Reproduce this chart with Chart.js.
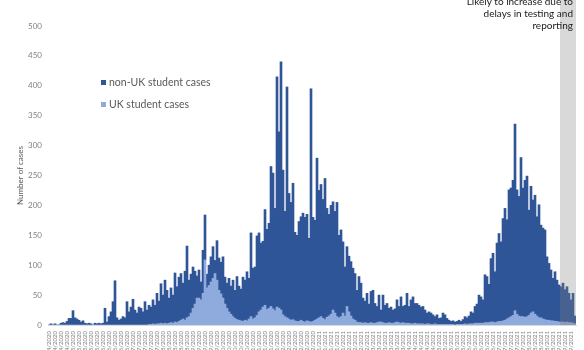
<!DOCTYPE html>
<html>
<head>
<meta charset="utf-8">
<script src="https://cdn.jsdelivr.net/npm/chart.js@4"></script>
<style>
  html, body { margin: 0; padding: 0; background: #fff; overflow: hidden; }
  #wrap { position: relative; width: 584px; height: 365px; }
</style>
</head>
<body>
<div id="wrap"><canvas id="chart" width="584" height="365"></canvas></div>
<script>
// daily cases, one bar per two days
const nonUkCases = [
  0, 2, 0, 2, 0, 0, 3, 4, 3, 6,
  11, 11, 24, 12, 10, 8, 5, 7, 3, 2,
  3, 2, 0, 3, 2, 3, 2, 3, 28, 5,
  14, 22, 39, 74, 12, 8, 10, 14, 12, 39,
  22, 30, 43, 25, 20, 30, 28, 22, 39, 25,
  32, 29, 40, 32, 51, 38, 66, 48, 72, 56,
  42, 58, 47, 82, 60, 74, 78, 60, 82, 120,
  61, 65, 69, 55, 37, 47, 30, 72, 75, 23,
  34, 42, 53, 22, 66, 54, 53, 69, 45, 42,
  56, 47, 61, 47, 72, 57, 53, 74, 67, 82,
  68, 140, 85, 85, 133, 132, 112, 110, 160, 134,
  142, 234, 227, 171, 385, 295, 415, 242, 176, 386,
  210, 197, 228, 148, 144, 167, 173, 181, 175, 178,
  139, 390, 174, 167, 269, 213, 221, 199, 236, 182,
  170, 182, 181, 170, 191, 138, 145, 119, 82, 100,
  93, 91, 85, 78, 53, 77, 66, 42, 36, 50,
  32, 52, 55, 33, 27, 45, 20, 46, 30, 33,
  24, 27, 22, 23, 37, 27, 44, 27, 30, 50,
  28, 40, 45, 33, 34, 31, 28, 29, 24, 18,
  20, 19, 16, 12, 16, 10, 11, 19, 16, 10,
  7, 5, 6, 5, 5, 7, 5, 8, 12, 11,
  13, 20, 18, 28, 32, 47, 44, 39, 80, 77,
  64, 106, 115, 85, 132, 147, 133, 171, 187, 166,
  214, 215, 226, 312, 208, 200, 266, 215, 229, 235,
  176, 212, 187, 199, 166, 189, 155, 152, 150, 106,
  95, 85, 71, 83, 69, 62, 59, 65, 55, 59,
  49, 38, 50, 13
];

const ukCases = [
  0, 0, 0, 0, 0, 0, 0, 0, 0, 0,
  0, 0, 0, 0, 0, 0, 0, 0, 0, 0,
  0, 0, 0, 0, 0, 0, 0, 0, 0, 0,
  0, 0, 0, 0, 0, 0, 0, 0, 0, 0,
  0, 0, 0, 0, 0, 0, 0, 0, 0, 0,
  1, 1, 2, 1, 2, 2, 3, 2, 3, 2,
  3, 4, 3, 5, 4, 6, 8, 10, 8, 12,
  14, 20, 28, 35, 45, 45, 42, 53, 109, 62,
  66, 72, 78, 86, 75, 58, 52, 45, 35, 28,
  22, 18, 14, 11, 9, 8, 7, 6, 8, 7,
  10, 14, 10, 12, 16, 22, 25, 30, 33, 26,
  28, 31, 27, 24, 30, 28, 25, 17, 14, 12,
  10, 8, 9, 7, 6, 6, 8, 6, 5, 7,
  6, 5, 6, 8, 10, 12, 14, 11, 9, 13,
  15, 18, 25, 20, 14, 12, 14, 20, 15, 31,
  22, 15, 10, 8, 5, 4, 4, 3, 4, 3,
  3, 4, 3, 3, 4, 5, 5, 4, 3, 3,
  4, 3, 3, 4, 5, 4, 3, 4, 3, 3,
  3, 2, 2, 3, 2, 2, 2, 2, 1, 2,
  2, 1, 1, 2, 1, 1, 1, 1, 1, 1,
  1, 1, 1, 0, 1, 1, 1, 1, 2, 1,
  2, 2, 2, 3, 3, 3, 3, 3, 4, 4,
  4, 5, 5, 4, 5, 6, 6, 7, 8, 10,
  12, 14, 16, 24, 18, 15, 14, 14, 13, 14,
  16, 20, 22, 18, 15, 12, 12, 10, 9, 8,
  8, 7, 7, 6, 6, 5, 5, 5, 4, 5,
  4, 4, 3, 2
];

// category labels: one date per bar
const firstDate = Date.UTC(2020, 3, 11);
const daysPerBar = 2;
const dates = nonUkCases.map((_, i) => {
  const d = new Date(firstDate + i * daysPerBar * 86400000);
  const dd = String(d.getUTCDate()).padStart(2, '0');
  const mm = String(d.getUTCMonth() + 1).padStart(2, '0');
  return `${dd}/${mm}/${d.getUTCFullYear()}`;
});

const yTicks = [0, 50, 100, 150, 200, 250, 300, 350, 400, 450, 500];
const delayedFromIndex = 256;
const noteLines = ['Likely to increase due to', 'delays in testing and', 'reporting'];

const FONT = 'Lato, "Liberation Sans", sans-serif';

// grey box over the last days + its note
const delayShade = {
  id: 'delayShade',
  afterDatasetsDraw(chart) {
    const { ctx, chartArea, scales: { x } } = chart;
    const left = (x.getPixelForValue(delayedFromIndex - 1) + x.getPixelForValue(delayedFromIndex)) / 2;
    ctx.save();
    ctx.fillStyle = 'rgba(128,128,128,0.3)';
    ctx.fillRect(left, 0, chartArea.right - left, chartArea.bottom);
    ctx.fillStyle = '#1a1a1a';
    ctx.font = '10px ' + FONT;
    ctx.textAlign = 'right';
    ctx.textBaseline = 'middle';
    noteLines.forEach((t, i) => ctx.fillText(t, chartArea.right - 3, 2 + i * 12));
    ctx.restore();
  }
};

// legend drawn inside the plot, like the original
const innerLegend = {
  id: 'innerLegend',
  afterDraw(chart) {
    const { ctx } = chart;
    const items = [chart.data.datasets[1], chart.data.datasets[0]];
    ctx.save();
    ctx.font = '10.5px ' + FONT;
    ctx.textBaseline = 'middle';
    ctx.textAlign = 'left';
    items.forEach((ds, i) => {
      const y = 82.5 + i * 22;
      ctx.fillStyle = ds.backgroundColor;
      ctx.fillRect(101, y - 2.5, 5, 5);
      ctx.fillStyle = '#595959';
      ctx.fillText(ds.label, 109, y);
    });
    ctx.restore();
  }
};

new Chart(document.getElementById('chart'), {
  type: 'bar',
  data: {
    labels: dates,
    datasets: [
      {
        label: 'UK student cases',
        data: ukCases,
        backgroundColor: '#8faadc',
        borderWidth: 0,
        barPercentage: 1,
        categoryPercentage: 1
      },
      {
        label: 'non-UK student cases',
        data: nonUkCases,
        backgroundColor: '#2f5597',
        borderWidth: 0,
        barPercentage: 1,
        categoryPercentage: 1
      }
    ]
  },
  options: {
    responsive: false,
    animation: false,
    devicePixelRatio: 1,
    layout: { padding: { top: 26, right: 8, left: 0, bottom: 0 } },
    plugins: {
      legend: { display: false },
      tooltip: { enabled: false }
    },
    scales: {
      x: {
        stacked: true,
        grid: { display: false, drawTicks: false },
        border: { display: true, color: '#d9d9d9', width: 1 },
        afterFit: s => { s.height = 40; s.paddingLeft = 0; s.paddingRight = 0; },
        ticks: {
          autoSkip: false,
          minRotation: 90,
          maxRotation: 90,
          padding: 6,
          color: '#808080',
          font: { size: 6, family: FONT },
          callback: (v, i) => (i % 3 === 0 ? dates[i] : '')
        }
      },
      y: {
        stacked: true,
        min: 0,
        max: 500,
        grid: { display: false, drawTicks: false },
        border: { display: false },
        afterFit: s => { s.width = 48; },
        afterBuildTicks: s => { s.ticks = yTicks.map(v => ({ value: v })); },
        ticks: {
          padding: 6,
          color: '#7f7f7f',
          font: { size: 8, family: FONT }
        },
        title: {
          display: true,
          text: 'Number of cases',
          color: '#595959',
          padding: { top: 16, bottom: 0 },
          font: { size: 8, family: FONT }
        }
      }
    }
  },
  plugins: [delayShade, innerLegend]
});
</script>
</body>
</html>
